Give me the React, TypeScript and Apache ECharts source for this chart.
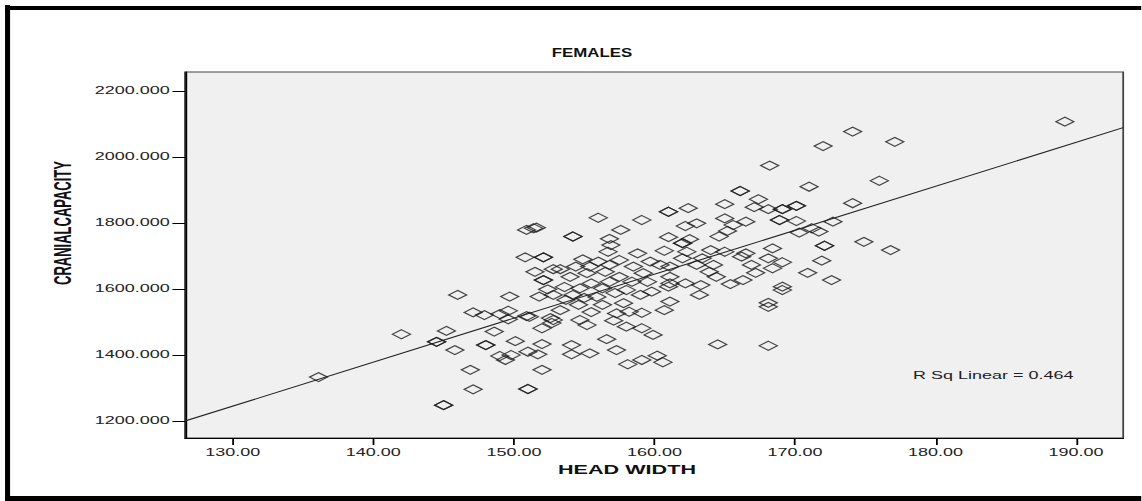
import React, { useEffect, useRef } from "react";
import * as echarts from "echarts";

// The reference is horizontally stretched; render at narrow width and stretch with CSS.
const S = 1.8;
const W = 1142 / S;
const H = 501;

const headWidth = [
  136.1, 142.0, 145.2, 144.5, 144.5, 146.0, 145.8, 145.0, 145.0, 146.9,
  147.1, 147.1, 147.9, 148.0, 148.0, 148.6, 149.0, 149.6, 149.6, 149.7,
  149.0, 149.4, 149.8, 150.1, 150.9, 151.0, 151.7, 151.0, 151.0, 152.0,
  152.0, 152.0, 152.7, 152.6, 151.1, 151.8, 152.8, 153.7, 152.8, 154.7,
  155.2, 154.1, 155.4, 154.2, 154.6, 159.8, 163.2, 161.1, 160.7, 156.3,
  157.8, 158.2, 159.1, 157.3, 157.1, 158.0, 159.1, 159.9, 156.6, 157.3,
  164.5, 154.1, 158.1, 159.1, 160.2, 160.6, 169.1, 168.1, 168.1, 168.1,
  174.1, 177.1, 172.0, 168.2, 176.0, 171.0, 166.1, 166.1, 167.4, 167.1,
  168.1, 169.1, 169.1, 170.1, 170.1, 174.1, 166.5, 168.9, 168.9, 170.1,
  172.7, 170.3, 171.2, 171.7, 172.1, 172.1, 174.9, 176.8, 168.4, 166.5,
  168.1, 169.1, 171.9, 166.9, 168.4, 167.2, 170.9, 172.6, 169.1, 189.2,
  165.0, 162.4, 161.0, 161.0, 156.0, 159.1, 157.6, 162.2, 163.0, 165.0,
  165.6, 165.2, 164.6, 154.2, 154.2, 156.8, 161.0, 162.5, 162.0, 162.0,
  156.9, 160.7, 156.7, 158.8, 162.3, 164.0, 165.0, 166.2, 154.9, 156.0,
  157.5, 159.7, 162.0, 163.4, 154.4, 155.4, 156.8, 158.5, 160.4, 161.1,
  163.0, 164.2, 153.3, 154.0, 155.2, 156.5, 157.5, 159.2, 161.1, 163.9,
  164.4, 155.5, 156.8, 158.4, 159.5, 161.1, 162.2, 163.3, 165.4, 166.3,
  154.7, 156.3, 161.0, 150.9, 151.4, 151.6, 150.8, 152.1, 152.1, 152.8,
  151.5, 152.1, 152.1, 152.4, 155.0, 155.5, 153.3, 155.9, 153.6, 157.2,
  159.0, 158.0,
];

const cranialCapacity = [
  1333, 1463, 1473, 1440, 1440, 1582, 1415, 1248, 1248, 1355,
  1296, 1529, 1521, 1430, 1430, 1471, 1524, 1534, 1508, 1577,
  1397, 1385, 1400, 1442, 1518, 1410, 1402, 1297, 1297, 1355,
  1433, 1481, 1497, 1512, 1516, 1577, 1582, 1567, 1506, 1506,
  1491, 1430, 1405, 1582, 1552, 1592, 1582, 1562, 1536, 1552,
  1557, 1531, 1528, 1526, 1504, 1486, 1481, 1461, 1448, 1415,
  1432, 1402, 1372, 1385, 1398, 1378, 1597, 1558, 1546, 1428,
  2077, 2046, 2033, 1974, 1928, 1910, 1897, 1897, 1872, 1848,
  1842, 1842, 1842, 1852, 1852, 1860, 1804, 1809, 1809, 1806,
  1804, 1771, 1784, 1774, 1731, 1731, 1743, 1718, 1723, 1708,
  1693, 1681, 1686, 1673, 1663, 1649, 1649, 1627, 1607, 2107,
  1857, 1845, 1834, 1834, 1816, 1809, 1779, 1791, 1799, 1814,
  1794, 1776, 1759, 1759, 1759, 1752, 1757, 1751, 1739, 1739,
  1733, 1716, 1713, 1708, 1713, 1718, 1713, 1698, 1690, 1683,
  1688, 1683, 1693, 1693, 1668, 1668, 1673, 1668, 1673, 1668,
  1673, 1673, 1660, 1637, 1648, 1652, 1637, 1648, 1637, 1652,
  1637, 1617, 1622, 1622, 1622, 1617, 1617, 1612, 1615, 1627,
  1602, 1602, 1607, 1779, 1784, 1786, 1696, 1696, 1696, 1660,
  1652, 1627, 1627, 1599, 1573, 1530, 1536, 1576, 1606, 1588,
  1582, 1597,
];

const xTicks = [130, 140, 150, 160, 170, 180, 190];
const yTicks = [1200, 1400, 1600, 1800, 2000, 2200];
const xRange = [126.6, 193.35];
const yRange = [1148.5, 2257.6];
const fitIntercept = -486.4;
const fitSlope = 13.32;
const titleText = "FEMALES";
const xName = "HEAD WIDTH";
const yName = "CRANIALCAPACITY";
const rSqLabel = "R Sq Linear = 0.464";

const FONT = "'Liberation Sans', Arial, sans-serif";

export default function App() {
  const ref = useRef<HTMLDivElement>(null);

  useEffect(() => {
    if (!ref.current) return;
    const chart = echarts.init(ref.current, undefined, { renderer: "svg" });
    const points = headWidth.map((x, i) => [x, cranialCapacity[i]]);
    const fitLine = xRange.map((x) => [x, fitIntercept + fitSlope * x]);

    chart.setOption({
      animation: false,
      backgroundColor: "#ffffff",
      grid: {
        left: 185 / S,
        right: W - 1124 / S,
        top: 72,
        bottom: 63,
        show: true,
        backgroundColor: "#f0f0f0",
        borderColor: "#444",
        borderWidth: 1,
      },
      xAxis: {
        type: "value",
        min: xRange[0],
        max: xRange[1],
        axisLine: { show: true, onZero: false, lineStyle: { color: "#000", width: 1 } },
        axisTick: { show: true, length: 7, customValues: xTicks, lineStyle: { color: "#000" } },
        axisLabel: {
          customValues: xTicks,
          formatter: (v: number) => v.toFixed(2),
          fontFamily: FONT,
          fontSize: 10,
          color: "#222",
          margin: 9.5,
        },
        splitLine: { show: false },
      },
      yAxis: {
        type: "value",
        min: yRange[0],
        max: yRange[1],
        axisLine: { show: true, onZero: false, lineStyle: { color: "#000", width: 1 } },
        axisTick: { show: true, length: 7, customValues: yTicks, lineStyle: { color: "#000" } },
        axisLabel: {
          customValues: yTicks,
          formatter: (v: number) => v.toFixed(3),
          fontFamily: FONT,
          fontSize: 10,
          color: "#222",
          margin: 8.5,
        },
        splitLine: { show: false },
      },
      series: [
        {
          type: "line",
          data: fitLine,
          symbol: "none",
          lineStyle: { color: "#222", width: 1 },
          silent: true,
          z: 2,
        },
        {
          type: "scatter",
          data: points,
          symbol: "diamond",
          symbolSize: [10, 9],
          itemStyle: { color: "rgba(0,0,0,0)", borderColor: "#1a1a1a", borderWidth: 1 },
          z: 3,
        },
      ],
      graphic: [
        { type: "line", shape: { x1: 4.2, y1: 5, x2: 4.2, y2: H }, style: { stroke: "#000", lineWidth: 2.8 } },
        { type: "line", shape: { x1: 2.8, y1: 8, x2: W, y2: 8 }, style: { stroke: "#000", lineWidth: 4 } },
        { type: "line", shape: { x1: 2.8, y1: 498.5, x2: W, y2: 498.5 }, style: { stroke: "#000", lineWidth: 5 } },
        {
          type: "text",
          x: 592 / S,
          y: 52,
          scaleX: 0.72,
          style: { text: titleText, font: `bold 13px ${FONT}`, fill: "#111", align: "center", verticalAlign: "middle" },
        },
        {
          type: "text",
          x: 627 / S,
          y: 470,
          style: { text: xName, font: `bold 12px ${FONT}`, fill: "#111", align: "center", verticalAlign: "middle" },
        },
        {
          type: "text",
          x: 63 / S,
          y: 223,
          rotation: Math.PI / 2,
          style: { text: yName, font: `bold 13px ${FONT}`, fill: "#111", align: "center", verticalAlign: "middle" },
        },
        {
          type: "text",
          x: 913 / S,
          y: 376,
          style: { text: rSqLabel, font: `10px ${FONT}`, fill: "#222", align: "left", verticalAlign: "middle" },
        },
      ],
    });
    return () => chart.dispose();
  }, []);

  return (
    <div
      ref={ref}
      style={{
        position: "absolute",
        left: 0,
        top: 0,
        width: W,
        height: H,
        transform: `scaleX(${S})`,
        transformOrigin: "0 0",
      }}
    />
  );
}
